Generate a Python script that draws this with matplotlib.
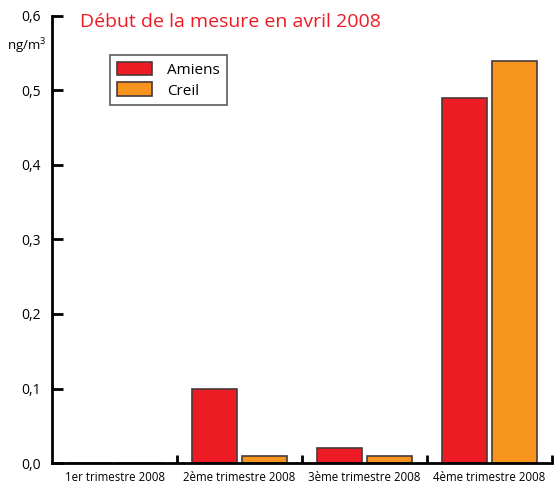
import matplotlib
matplotlib.use("Agg")
import matplotlib.pyplot as plt
import numpy as np

plt.rcParams['font.family'] = ['Open Sans', 'DejaVu Sans']
plt.rcParams['mathtext.default'] = 'regular'

# Données
trimestres = ['1er trimestre 2008', '2ème trimestre 2008', '3ème trimestre 2008', '4ème trimestre 2008']
amiens = [0.0, 0.10, 0.02, 0.49]
creil = [0.0, 0.01, 0.01, 0.54]
yticks = [0.0, 0.1, 0.2, 0.3, 0.4, 0.5, 0.6]

rouge = '#ED1C24'
orange = '#F7941E'

fig = plt.figure(figsize=(5.54, 4.83), dpi=100)
ax = fig.add_axes([0.094, 0.0414, 0.9024, 0.9255])

x = np.arange(len(trimestres))
ax.bar(x + 0.12, amiens, width=0.36, align='edge', color=rouge,
       edgecolor='#4a3a3a', linewidth=1.2, label='Amiens')
ax.bar(x + 0.52, creil, width=0.36, align='edge', color=orange,
       edgecolor='#4a3a3a', linewidth=1.2, label='Creil')

ax.set_xlim(0, 4)
ax.set_ylim(0, 0.6)

# Axe Y
ax.set_yticks(yticks)
ax.set_yticklabels([f'{v:.1f}'.replace('.', ',') for v in yticks], fontsize=10)
ax.tick_params(axis='y', direction='in', length=8, width=2, pad=8)

# Axe X : séparateurs de groupes + étiquettes centrées
ax.set_xticks([1, 2, 3, 4])
ax.set_xticklabels([])
ax.tick_params(axis='x', which='major', direction='in', length=6, width=2)
ax.set_xticks(x + 0.5, minor=True)
ax.set_xticklabels(trimestres, minor=True, fontsize=8.3)
ax.tick_params(axis='x', which='minor', length=0, pad=6)

for s in ['top', 'right']:
    ax.spines[s].set_visible(False)
ax.spines['left'].set_linewidth(2)
ax.spines['bottom'].set_linewidth(2)

# Unité
fig.text(0.083, 0.905, 'ng/m$^3$', fontsize=9.5, ha='right', va='center')

fig.text(0.145, 0.945, 'Début de la mesure en avril 2008', color=rouge,
         fontsize=14)

leg = ax.legend(loc='upper left', bbox_to_anchor=(0.1, 0.93), fontsize=11,
                frameon=True, fancybox=False, edgecolor='#333333',
                handlelength=2.3, handleheight=1.0, borderpad=0.45,
                labelspacing=0.3, handletextpad=1.0)
leg.get_frame().set_linewidth(1.2)

fig.savefig('out.png', dpi=100)
